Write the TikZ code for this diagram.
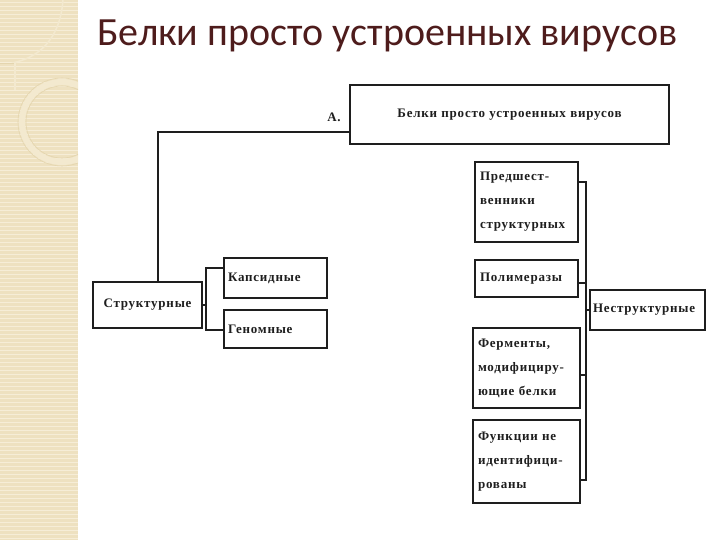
\documentclass[tikz,border=0pt]{standalone}
\usepackage{fontspec}
\setmainfont{Liberation Serif}
\newfontfamily\titlefont{Carlito}
\newfontfamily\boxfont[LetterSpace=6]{Liberation Serif}
\usetikzlibrary{calc}
\definecolor{band}{HTML}{EEE1C0}
\definecolor{bandline}{HTML}{F6EDD7}
\definecolor{decor}{HTML}{E4D5AE}
\definecolor{decorlight}{HTML}{F3E9CF}
\definecolor{ink}{HTML}{1E1E1E}
\definecolor{titlecol}{HTML}{4E1C1C}
\begin{document}
\begin{tikzpicture}[x=1pt,y=-1pt,
  box/.style={draw=ink, line width=1.8pt, fill=white, text=ink, inner xsep=5pt, inner ysep=0pt,
    font=\boxfont\bfseries\fontsize{13}{24}\selectfont},
  conn/.style={draw=ink, line width=1.6pt}]
\useasboundingbox (0,0) rectangle (720,540);
\fill[white] (0,0) rectangle (720,540);
% decorative band
\fill[band] (0,0) rectangle (78,540);
\foreach \yy in {2,6,...,538} {\draw[bandline, line width=0.8pt] (0,\yy) -- (78,\yy);}
\begin{scope}
  \clip (0,0) rectangle (78,540);
  \draw[decorlight, line width=6pt] (62,122) circle (40);
  \draw[decor, line width=0.6pt] (62,122) circle (44);
  \draw[decor, line width=0.6pt] (62,122) circle (36);
  \draw[decorlight, line width=1.5pt] (63,0) .. controls (60,40) and (38,58) .. (12,63);
  \draw[decor, line width=0.6pt] (0,63) -- (14,63);
  \draw[decorlight, line width=1.2pt] (15,63) -- (15,90);
\end{scope}
% title
\node[anchor=base west, inner sep=0pt, text=titlecol, font=\titlefont\fontsize{40}{44}\selectfont] (title) at (97,46) {Белки просто устроенных вирусов};
% boxes
\node[box, text width=309pt, align=center, minimum height=59pt] (top) at (509.5,114.5) {Белки просто устроенных вирусов};
\node[anchor=center, inner sep=0pt, text=ink, font=\boxfont\bfseries\fontsize{13}{15}\selectfont] (lblA) at (334,117) {А.};
\node[box, text width=99pt, align=center, minimum height=46pt] (struct) at (147.5,305) {Структурные};
\node[box, text width=95pt, align=left, minimum height=40pt, inner xsep=4pt] (kaps) at (275.5,278) {Капсидные};
\node[box, text width=95pt, align=left, minimum height=38pt, inner xsep=4pt] (geno) at (275.5,329) {Геномные};
\node[box, text width=93pt, align=left, minimum height=80pt] (pred) at (526.5,202) {Предшест-\\венники\\структурных};
\node[box, text width=93pt, align=left, minimum height=37pt] (polim) at (526.5,278.5) {Полимеразы};
\node[box, text width=97pt, align=left, minimum height=80pt] (ferm) at (526.5,368) {Ферменты,\\модифициру-\\ющие белки};
\node[box, text width=97pt, align=left, minimum height=83pt] (func) at (526.5,461.5) {Функции не\\идентифици-\\рованы};
\node[box, text width=109pt, align=left, minimum height=40pt, inner xsep=3pt] (nestr) at (647.5,310) {Неструктурные};
% connectors
\coordinate (j1) at (158,132);
\draw[conn] (top.west |- j1) -- (j1) -- (j1 |- struct.north);
\coordinate (lbt) at (206,268);
\coordinate (lbb) at (206,330);
\draw[conn] (kaps.west |- lbt) -- (lbt) -- (lbb) -- (geno.west |- lbb);
\draw[conn] (struct.east) -- (struct.east -| lbt);
\coordinate (rbt) at (586,182);
\coordinate (rbb) at (586,480);
\draw[conn] (pred.east |- rbt) -- (rbt) -- (rbb) -- (func.east |- rbb);
\draw[conn] (polim.east |- 0,283) -- (586,283);
\draw[conn] (ferm.east |- 0,375) -- (586,375);
\draw[conn] (586,310) -- (nestr.west);
\end{tikzpicture}
\end{document}
